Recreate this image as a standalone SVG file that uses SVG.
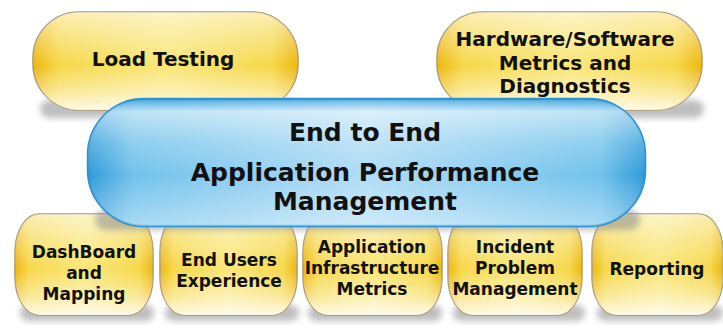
<svg xmlns="http://www.w3.org/2000/svg" width="723" height="331" viewBox="0 0 723 331">
<defs>
<linearGradient id="yBase" x1="0" y1="0" x2="1" y2="0">
<stop offset="0" stop-color="#ecb300"/>
<stop offset="0.1" stop-color="#f6d640"/>
<stop offset="0.5" stop-color="#f9e572"/>
<stop offset="0.9" stop-color="#f6d640"/>
<stop offset="1" stop-color="#ecb300"/>
</linearGradient>
<linearGradient id="yGloss" x1="0" y1="0" x2="0" y2="1">
<stop offset="0" stop-color="#ffffff" stop-opacity="0.6"/>
<stop offset="0.3" stop-color="#ffffff" stop-opacity="0.3"/>
<stop offset="0.55" stop-color="#ffffff" stop-opacity="0.05"/>
<stop offset="0.8" stop-color="#ffffff" stop-opacity="0.45"/>
<stop offset="1" stop-color="#ffffff" stop-opacity="0.85"/>
</linearGradient>
<linearGradient id="bBase" x1="0" y1="0" x2="1" y2="0">
<stop offset="0" stop-color="#2f9bd9"/>
<stop offset="0.08" stop-color="#72c2ec"/>
<stop offset="0.5" stop-color="#b0dcf5"/>
<stop offset="0.92" stop-color="#72c2ec"/>
<stop offset="1" stop-color="#2f9bd9"/>
</linearGradient>
<linearGradient id="bGloss" x1="0" y1="0" x2="0" y2="1">
<stop offset="0" stop-color="#2a96d6" stop-opacity="0.6"/>
<stop offset="0.1" stop-color="#ffffff" stop-opacity="0.55"/>
<stop offset="0.35" stop-color="#ffffff" stop-opacity="0.2"/>
<stop offset="0.6" stop-color="#ffffff" stop-opacity="0"/>
<stop offset="1" stop-color="#ffffff" stop-opacity="0.4"/>
</linearGradient>
<filter id="blur" x="-10%" y="-50%" width="120%" height="200%">
<feGaussianBlur stdDeviation="3"/>
</filter>
</defs>
<style>
.yb{fill:url(#yBase);stroke:#a89668;stroke-width:1.5}
.yg{fill:url(#yGloss)}
.sh{fill:#8a8a8a;opacity:0.55;filter:url(#blur)}
.t{font-family:"DejaVu Sans",Verdana,sans-serif;font-weight:bold;fill:#111;text-anchor:middle}
.s20{font-size:20px}
.s17{font-size:17px}
.s25{font-size:25px}
</style>
<rect width="723" height="331" fill="#ffffff"/>

<g id="load-testing">
<rect class="sh" x="40" y="100" width="262" height="18" rx="9"/>
<rect class="yb" x="33" y="12" width="265" height="98" rx="46" ry="46"/>
<rect class="yg" x="33" y="12" width="265" height="98" rx="46" ry="46"/>
<text class="t s20" x="163" y="66">Load Testing</text>
</g>

<g id="hw-sw-metrics">
<rect class="sh" x="442" y="100" width="262" height="18" rx="9"/>
<rect class="yb" x="437" y="12" width="265" height="98" rx="46" ry="46"/>
<rect class="yg" x="437" y="12" width="265" height="98" rx="46" ry="46"/>
<text class="t s20" x="565" y="46">Hardware/Software</text>
<text class="t s20" x="565" y="70">Metrics and</text>
<text class="t s20" x="565" y="93">Diagnostics</text>
</g>

<g id="dashboard">
<rect class="sh" x="20" y="305" width="134" height="16" rx="8"/>
<rect class="yb" x="15" y="214" width="138" height="101" rx="24" ry="38"/>
<rect class="yg" x="15" y="214" width="138" height="101" rx="24" ry="38"/>
<text class="t s17" x="84" y="258">DashBoard</text>
<text class="t s17" x="84" y="279">and</text>
<text class="t s17" x="84" y="300">Mapping</text>
</g>

<g id="end-users">
<rect class="sh" x="165" y="305" width="134" height="16" rx="8"/>
<rect class="yb" x="160" y="214" width="137" height="101" rx="24" ry="38"/>
<rect class="yg" x="160" y="214" width="137" height="101" rx="24" ry="38"/>
<text class="t s17" x="229" y="266">End Users</text>
<text class="t s17" x="229" y="287">Experience</text>
</g>

<g id="app-infra">
<rect class="sh" x="308" y="305" width="134" height="16" rx="8"/>
<rect class="yb" x="303" y="214" width="139" height="101" rx="24" ry="38"/>
<rect class="yg" x="303" y="214" width="139" height="101" rx="24" ry="38"/>
<text class="t s17" x="372" y="253">Application</text>
<text class="t s17" x="372" y="274">Infrastructure</text>
<text class="t s17" x="372" y="295">Metrics</text>
</g>

<g id="incident">
<rect class="sh" x="453" y="305" width="132" height="16" rx="8"/>
<rect class="yb" x="448" y="214" width="134" height="101" rx="24" ry="38"/>
<rect class="yg" x="448" y="214" width="134" height="101" rx="24" ry="38"/>
<text class="t s17" x="515" y="253">Incident</text>
<text class="t s17" x="515" y="274">Problem</text>
<text class="t s17" x="515" y="295">Management</text>
</g>

<g id="reporting">
<rect class="sh" x="597" y="305" width="126" height="16" rx="8"/>
<rect class="yb" x="592" y="214" width="131" height="101" rx="24" ry="38"/>
<rect class="yg" x="592" y="214" width="131" height="101" rx="24" ry="38"/>
<text class="t s17" x="657" y="275">Reporting</text>
</g>

<g id="apm-core">
<rect class="sh" x="95" y="210" width="545" height="20" rx="10"/>
<rect x="88" y="99" width="557" height="127" rx="56" ry="56" fill="url(#bBase)" stroke="#2a92d2" stroke-width="2.5"/>
<rect x="88" y="99" width="557" height="127" rx="56" ry="56" fill="url(#bGloss)"/>
<text class="t s25" x="365" y="141">End to End</text>
<text class="t s25" x="365" y="181">Application Performance</text>
<text class="t s25" x="365" y="210">Management</text>
</g>

<g id="connectors"/>
</svg>
